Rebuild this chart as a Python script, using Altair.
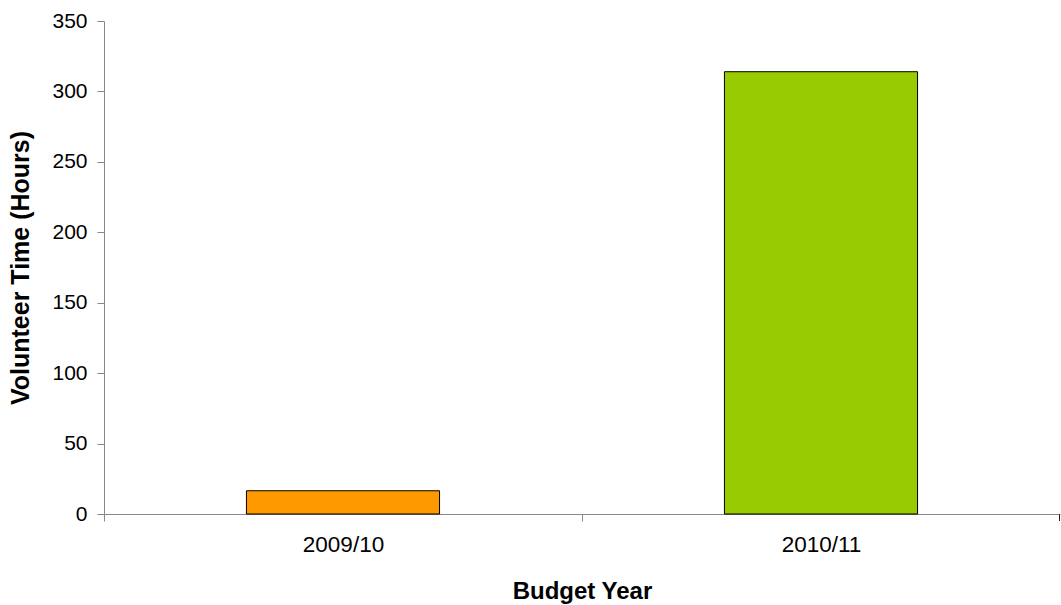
import altair as alt
import pandas as pd

years = ["2009/10", "2010/11"]
hours = [16.5, 314]
colors = ["#FF9900", "#99CC00"]

df = pd.DataFrame({"year": years, "hours": hours})

FONT = "Liberation Sans"
W, H = 956, 493
HALF_STEP = W / 4

bars = (
    alt.Chart(df)
    .mark_bar(stroke="#000000", strokeWidth=1)
    .encode(
        x=alt.X(
            "year:N",
            title="Budget Year",
            sort=years,
            scale=alt.Scale(paddingInner=0.596, paddingOuter=0.298),
            axis=alt.Axis(
                labelAngle=0,
                tickOffset=-HALF_STEP,
                labelOffset=HALF_STEP,
                tickSize=7,
                labelPadding=12,
                titlePadding=24,
                labelFontSize=22.5,
                titleFontSize=24,
            ),
        ),
        y=alt.Y(
            "hours:Q",
            title="Volunteer Time (Hours)",
            scale=alt.Scale(domain=[0, 350], nice=False),
            axis=alt.Axis(
                values=[0, 50, 100, 150, 200, 250, 300, 350],
                grid=False,
                tickSize=7,
                labelPadding=10,
                titlePadding=18,
                labelFontSize=21,
                titleFontSize=25,
            ),
        ),
        color=alt.Color(
            "year:N",
            scale=alt.Scale(domain=years, range=colors),
            legend=None,
        ),
    )
)

# closing category tick at the right end of the x axis
end_tick = (
    alt.Chart(df)
    .mark_rule(color="#222222", strokeWidth=1)
    .encode(x=alt.value(W - 0.5), y=alt.value(H), y2=alt.value(H + 7))
)

chart = (
    alt.layer(bars, end_tick)
    .properties(
        width=W,
        height=H,
        autosize=alt.AutoSizeParams(type="none"),
        padding={"left": 104, "top": 21, "right": 1, "bottom": 91},
        view=alt.ViewBackground(stroke="#ffffff", strokeOpacity=0, fill="#ffffff"),
    )
    .configure_view(stroke="#ffffff", strokeWidth=0, strokeOpacity=0)
    .configure_axis(
        domainColor="#222222",
        tickColor="#222222",
        labelColor="#000000",
        titleColor="#000000",
        labelFont=FONT,
        titleFont=FONT,
        titleFontWeight="bold",
        labelFontWeight="normal",
    )
    .configure(background="white")
)

chart.save("out.html", embed_options={"renderer": "svg", "actions": False})
